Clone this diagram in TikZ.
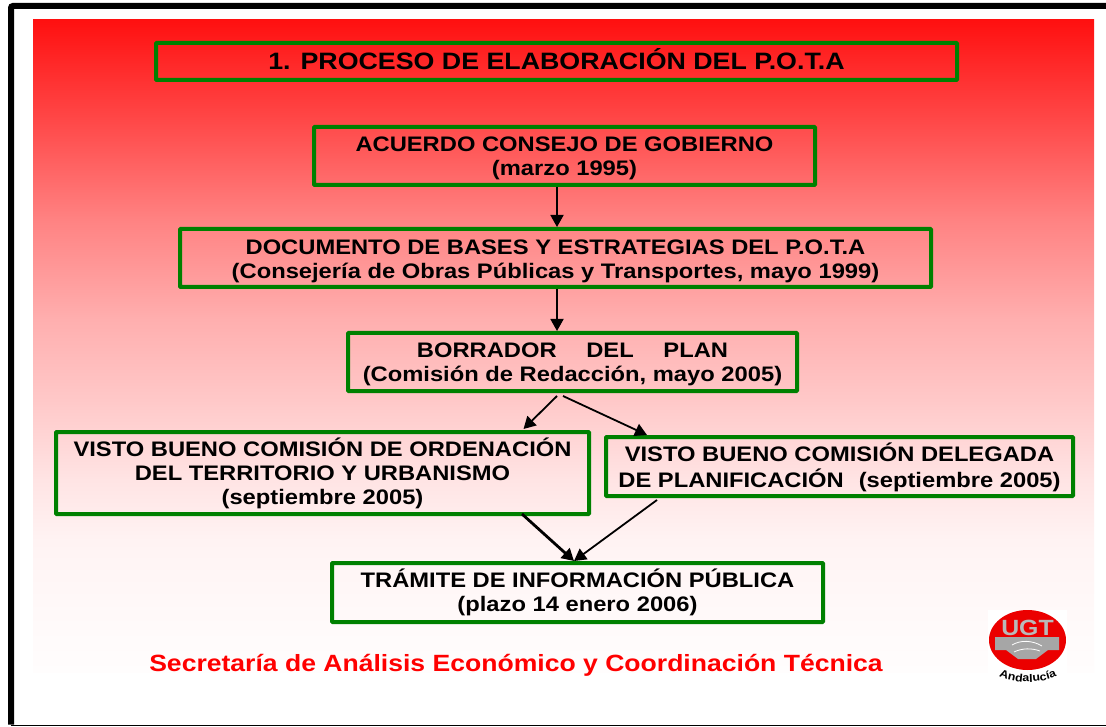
\documentclass[tikz,border=0pt]{standalone}
\usepackage{fontspec}
\setmainfont{Liberation Sans}[BoldFeatures={FakeStretch=1.13}]
\usetikzlibrary{arrows.meta,calc,decorations.text}
\definecolor{boxgreen}{RGB}{0,128,0}
\pgfdeclareverticalshading{redfade}{100bp}{
  rgb(0bp)=(1,.992,.992); rgb(25bp)=(1,.992,.992); rgb(30.5bp)=(1,.973,.973);
  rgb(35.1bp)=(1,.953,.953); rgb(39.7bp)=(1,.894,.894); rgb(45.9bp)=(1,.784,.784);
  rgb(52bp)=(1,.686,.686); rgb(59.7bp)=(1,.51,.51); rgb(67.3bp)=(1,.282,.282);
  rgb(75bp)=(1,.063,.063); rgb(100bp)=(1,.063,.063)}
\tikzset{
  x=1pt,y=-1pt,
  flow/.style={draw=boxgreen,line width=4pt,rounded corners=0.6pt,inner sep=0pt,
    font=\fontsize{21}{24}\selectfont\bfseries,text=black},
  lnk/.style={draw=black,line width=1.8pt,-{Triangle[length=12pt,width=13pt]}},
  lnkb/.style={lnk,line width=2.8pt}
}
\newcommand{\bx}[6]{\node[flow,minimum width=#4-#3-2pt,minimum height=#6-#5-2pt,#2] (#1) at ({(#3+#4)/2},{(#5+#6)/2})}
\newcommand{\tx}[2]{\raisebox{\dimexpr #1-5.25pt\relax}[0pt][0pt]{\begin{tabular}{@{}c@{}}#2\end{tabular}}}
\begin{document}
\begin{tikzpicture}
\useasboundingbox (0,0) rectangle (1106,727);
\fill[white] (0,0) rectangle (1106,727);
% frame
\draw[black,line width=6pt,rounded corners=2pt] (11,724.5) -- (11,6) -- (1112,6);
\draw[black,line width=1.5pt] (11,725.7) -- (1112,725.7);
% gradient
\shade[shading=redfade] (33,20) rectangle (1094,672);
% boxes
\bx{title}{}{155}{958}{42}{81} {\tx{-1pt}{\fontsize{23.7}{26}\selectfont 1. PROCESO DE ELABORACIÓN DEL P.O.T.A}};
\bx{acuerdo}{}{313}{816}{126}{186} {\tx{-3pt}{ACUERDO CONSEJO DE GOBIERNO\\(marzo 1995)}};
\bx{bases}{}{179}{932}{228}{288} {\tx{-4pt}{DOCUMENTO DE BASES Y ESTRATEGIAS DEL P.O.T.A\\(Consejería de Obras Públicas y Transportes, mayo 1999)}};
\bx{borrador}{}{347}{798}{332}{392} {\tx{-3pt}{BORRADOR\hspace{1.1em} DEL\hspace{1.1em} PLAN\\(Comisión de Redacción, mayo 2005)}};
\bx{vleft}{}{55}{590}{431}{515} {\tx{-1.5pt}{VISTO BUENO COMISIÓN DE ORDENACIÓN\\DEL TERRITORIO Y URBANISMO\\(septiembre 2005)}};
\bx{vright}{}{605}{1074}{436}{497} {\tx{-2pt}{VISTO BUENO COMISIÓN DELEGADA\\DE PLANIFICACIÓN\hspace{0.4em} (septiembre 2005)}};
\bx{tramite}{}{331}{824}{562}{623} {\tx{-1pt}{TRÁMITE DE INFORMACIÓN PÚBLICA\\(plazo 14 enero 2006)}};
% connectors
\draw[lnk] ($(acuerdo.south)+(-7.5,0)$) -- ($(bases.north)+(1.5,0)$);
\draw[lnk] ($(bases.south)+(1.5,0)$) -- ($(borrador.north)+(-15.5,0)$);
\draw[lnk] ($(borrador.south)+(-15.5,3)$) -- ($(vleft.north)+(201,-1)$);
\draw[lnk] ($(borrador.south)+(-9.5,3)$) -- ($(vright.north)+(-192.5,0)$);
\draw[lnkb] ($(vleft.south)+(199.5,-2)$) -- ($(tramite.north)+(-3.5,0)$);
\draw[lnk] ($(vright.south)+(-182.5,2)$) -- ($(tramite.north)+(-3.5,0)$);
% footer
\node[text=red,font=\fontsize{23.5}{26}\selectfont\bfseries,inner sep=0pt] (foot) at (516,665) {Secretaría de Análisis Económico y Coordinación Técnica};
% logo
\fill[white] (988,610) rectangle (1067,682);
\fill[red!92!black] (1027.5,640) ellipse [x radius=38.5,y radius=30];
\node[font=\fontsize{22}{22}\selectfont\bfseries,text=gray!55,inner sep=0pt] (ugt) at (1027.5,628) {UGT};
\fill[gray!70] (995,637) -- (1059,637) -- (1059,650) -- (1048,650) -- (1036,659) -- (1018,659) -- (1006,650) -- (995,650) -- cycle;
\draw[white,line width=.8pt] (1012,645) .. controls (1020,640) and (1032,640) .. (1042,646);
\draw[white,line width=.8pt] (1014,652) .. controls (1022,648) and (1032,648) .. (1040,651);
\path[postaction={decorate},decoration={text along path,text align=center,
  text={|\fontsize{11}{11}\selectfont\bfseries|Andalucía}}]
  (993,673) .. controls (1010,685) and (1045,685) .. (1063,673);
\end{tikzpicture}
\end{document}
